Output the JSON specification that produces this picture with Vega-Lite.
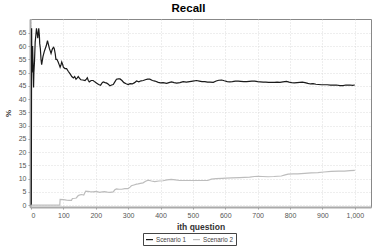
{
  "$schema": "https://vega.github.io/schema/vega-lite/v6.json",
  "autosize": {"type": "none"},
  "width": 341,
  "height": 188,
  "padding": {"left": 30, "top": 19, "right": 7, "bottom": 39},
  "background": "white",
  "title": {"text": "Recall", "font": "Liberation Sans", "fontSize": 11.5, "fontWeight": "bold", "color": "#000", "anchor": "middle", "dx": -12, "offset": 5},
  "config": {
    "view": {"stroke": "#888", "strokeWidth": 1},
    "axis": {"labelFont": "Liberation Sans", "labelFontSize": 7, "labelColor": "#555", "titleFont": "Liberation Sans", "titleColor": "#333", "gridColor": "#d4d4d4", "gridDash": [1, 2], "gridWidth": 0.8, "tickColor": "#999", "tickSize": 2, "domainColor": "#aaa", "domainWidth": 2}
  },
  "data": {"values": [
    {"q":1,"v":0,"s":"Scenario 1"},{"q":2,"v":66.7,"s":"Scenario 1"},{"q":3,"v":50,"s":"Scenario 1"},{"q":5,"v":60,"s":"Scenario 1"},{"q":7,"v":50,"s":"Scenario 1"},{"q":8,"v":44.4,"s":"Scenario 1"},{"q":9,"v":50,"s":"Scenario 1"},{"q":11,"v":54.5,"s":"Scenario 1"},{"q":13,"v":61.5,"s":"Scenario 1"},{"q":15,"v":64,"s":"Scenario 1"},{"q":17,"v":66.7,"s":"Scenario 1"},{"q":19,"v":65,"s":"Scenario 1"},{"q":21,"v":63,"s":"Scenario 1"},{"q":23,"v":65.2,"s":"Scenario 1"},{"q":24,"v":66.7,"s":"Scenario 1"},{"q":26,"v":64,"s":"Scenario 1"},{"q":27,"v":61,"s":"Scenario 1"},{"q":29,"v":59,"s":"Scenario 1"},{"q":31,"v":55,"s":"Scenario 1"},{"q":33,"v":53,"s":"Scenario 1"},{"q":35,"v":54.5,"s":"Scenario 1"},{"q":37,"v":56,"s":"Scenario 1"},{"q":41,"v":57.9,"s":"Scenario 1"},{"q":44,"v":59,"s":"Scenario 1"},{"q":47,"v":60,"s":"Scenario 1"},{"q":51,"v":62,"s":"Scenario 1"},{"q":54,"v":60.5,"s":"Scenario 1"},{"q":57,"v":59,"s":"Scenario 1"},{"q":60,"v":58,"s":"Scenario 1"},{"q":62,"v":57.2,"s":"Scenario 1"},{"q":65,"v":58.5,"s":"Scenario 1"},{"q":67,"v":59.1,"s":"Scenario 1"},{"q":70,"v":59.5,"s":"Scenario 1"},{"q":72,"v":59,"s":"Scenario 1"},{"q":75,"v":57,"s":"Scenario 1"},{"q":77,"v":55,"s":"Scenario 1"},{"q":80,"v":55,"s":"Scenario 1"},{"q":84,"v":54,"s":"Scenario 1"},{"q":87,"v":53,"s":"Scenario 1"},{"q":90,"v":52,"s":"Scenario 1"},{"q":93,"v":53,"s":"Scenario 1"},{"q":95,"v":54,"s":"Scenario 1"},{"q":98,"v":53,"s":"Scenario 1"},{"q":100,"v":52,"s":"Scenario 1"},{"q":105,"v":51.5,"s":"Scenario 1"},{"q":110,"v":51.5,"s":"Scenario 1"},{"q":115,"v":50.5,"s":"Scenario 1"},{"q":118,"v":50,"s":"Scenario 1"},{"q":122,"v":49.3,"s":"Scenario 1"},{"q":126,"v":48.5,"s":"Scenario 1"},{"q":131,"v":48,"s":"Scenario 1"},{"q":135,"v":48.5,"s":"Scenario 1"},{"q":139,"v":47.5,"s":"Scenario 1"},{"q":143,"v":48,"s":"Scenario 1"},{"q":146,"v":48.5,"s":"Scenario 1"},{"q":150,"v":47.8,"s":"Scenario 1"},{"q":154,"v":47.3,"s":"Scenario 1"},{"q":160,"v":47.2,"s":"Scenario 1"},{"q":167,"v":47,"s":"Scenario 1"},{"q":171,"v":47.5,"s":"Scenario 1"},{"q":174,"v":48,"s":"Scenario 1"},{"q":177,"v":47,"s":"Scenario 1"},{"q":180,"v":46.5,"s":"Scenario 1"},{"q":186,"v":47,"s":"Scenario 1"},{"q":192,"v":47,"s":"Scenario 1"},{"q":197,"v":46.5,"s":"Scenario 1"},{"q":203,"v":46,"s":"Scenario 1"},{"q":209,"v":45.5,"s":"Scenario 1"},{"q":215,"v":45.2,"s":"Scenario 1"},{"q":219,"v":46,"s":"Scenario 1"},{"q":223,"v":46.5,"s":"Scenario 1"},{"q":229,"v":46.2,"s":"Scenario 1"},{"q":234,"v":46,"s":"Scenario 1"},{"q":239,"v":45.6,"s":"Scenario 1"},{"q":244,"v":45,"s":"Scenario 1"},{"q":249,"v":45.3,"s":"Scenario 1"},{"q":254,"v":45.5,"s":"Scenario 1"},{"q":259,"v":46.5,"s":"Scenario 1"},{"q":264,"v":47.5,"s":"Scenario 1"},{"q":270,"v":47.6,"s":"Scenario 1"},{"q":275,"v":47.6,"s":"Scenario 1"},{"q":281,"v":47,"s":"Scenario 1"},{"q":287,"v":46.2,"s":"Scenario 1"},{"q":294,"v":45.8,"s":"Scenario 1"},{"q":300,"v":45.5,"s":"Scenario 1"},{"q":306,"v":45.8,"s":"Scenario 1"},{"q":313,"v":45.7,"s":"Scenario 1"},{"q":320,"v":46.2,"s":"Scenario 1"},{"q":326,"v":46.8,"s":"Scenario 1"},{"q":333,"v":46.5,"s":"Scenario 1"},{"q":340,"v":46.9,"s":"Scenario 1"},{"q":347,"v":47,"s":"Scenario 1"},{"q":353,"v":47.3,"s":"Scenario 1"},{"q":360,"v":47.5,"s":"Scenario 1"},{"q":367,"v":47.5,"s":"Scenario 1"},{"q":375,"v":47,"s":"Scenario 1"},{"q":383,"v":46.8,"s":"Scenario 1"},{"q":393,"v":46.3,"s":"Scenario 1"},{"q":400,"v":46.1,"s":"Scenario 1"},{"q":408,"v":46.2,"s":"Scenario 1"},{"q":419,"v":45.9,"s":"Scenario 1"},{"q":426,"v":46.2,"s":"Scenario 1"},{"q":434,"v":46.5,"s":"Scenario 1"},{"q":442,"v":46.2,"s":"Scenario 1"},{"q":450,"v":46,"s":"Scenario 1"},{"q":460,"v":46.2,"s":"Scenario 1"},{"q":470,"v":46.6,"s":"Scenario 1"},{"q":480,"v":46.4,"s":"Scenario 1"},{"q":490,"v":46.6,"s":"Scenario 1"},{"q":500,"v":46.8,"s":"Scenario 1"},{"q":511,"v":47,"s":"Scenario 1"},{"q":520,"v":46.8,"s":"Scenario 1"},{"q":528,"v":46.6,"s":"Scenario 1"},{"q":537,"v":46.6,"s":"Scenario 1"},{"q":545,"v":46.4,"s":"Scenario 1"},{"q":553,"v":46.4,"s":"Scenario 1"},{"q":563,"v":46.3,"s":"Scenario 1"},{"q":572,"v":46.8,"s":"Scenario 1"},{"q":580,"v":47.1,"s":"Scenario 1"},{"q":589,"v":47.2,"s":"Scenario 1"},{"q":597,"v":46.9,"s":"Scenario 1"},{"q":606,"v":46.6,"s":"Scenario 1"},{"q":614,"v":46.5,"s":"Scenario 1"},{"q":622,"v":46.6,"s":"Scenario 1"},{"q":631,"v":46.8,"s":"Scenario 1"},{"q":640,"v":46.8,"s":"Scenario 1"},{"q":648,"v":46.7,"s":"Scenario 1"},{"q":657,"v":46.6,"s":"Scenario 1"},{"q":666,"v":46.6,"s":"Scenario 1"},{"q":674,"v":46.7,"s":"Scenario 1"},{"q":682,"v":46.8,"s":"Scenario 1"},{"q":691,"v":46.8,"s":"Scenario 1"},{"q":700,"v":46.6,"s":"Scenario 1"},{"q":708,"v":46.5,"s":"Scenario 1"},{"q":717,"v":46.4,"s":"Scenario 1"},{"q":725,"v":46.4,"s":"Scenario 1"},{"q":734,"v":46.3,"s":"Scenario 1"},{"q":743,"v":46.3,"s":"Scenario 1"},{"q":752,"v":46.3,"s":"Scenario 1"},{"q":760,"v":46.4,"s":"Scenario 1"},{"q":769,"v":46.3,"s":"Scenario 1"},{"q":778,"v":46.5,"s":"Scenario 1"},{"q":789,"v":46.7,"s":"Scenario 1"},{"q":797,"v":46.4,"s":"Scenario 1"},{"q":805,"v":46.2,"s":"Scenario 1"},{"q":813,"v":46.1,"s":"Scenario 1"},{"q":822,"v":46.2,"s":"Scenario 1"},{"q":830,"v":46.3,"s":"Scenario 1"},{"q":838,"v":46.4,"s":"Scenario 1"},{"q":846,"v":46.2,"s":"Scenario 1"},{"q":855,"v":45.9,"s":"Scenario 1"},{"q":863,"v":45.7,"s":"Scenario 1"},{"q":871,"v":45.8,"s":"Scenario 1"},{"q":880,"v":45.6,"s":"Scenario 1"},{"q":888,"v":45.5,"s":"Scenario 1"},{"q":897,"v":45.4,"s":"Scenario 1"},{"q":905,"v":45.4,"s":"Scenario 1"},{"q":915,"v":45.4,"s":"Scenario 1"},{"q":925,"v":45.3,"s":"Scenario 1"},{"q":933,"v":45.3,"s":"Scenario 1"},{"q":943,"v":45.3,"s":"Scenario 1"},{"q":954,"v":45.1,"s":"Scenario 1"},{"q":964,"v":45.1,"s":"Scenario 1"},{"q":972,"v":45.3,"s":"Scenario 1"},{"q":980,"v":45.3,"s":"Scenario 1"},{"q":985,"v":45.3,"s":"Scenario 1"},{"q":993,"v":45.2,"s":"Scenario 1"},{"q":1000,"v":45.3,"s":"Scenario 1"},
    {"q":1,"v":0,"s":"Scenario 2"},{"q":89,"v":0,"s":"Scenario 2"},{"q":90,"v":2.2,"s":"Scenario 2"},{"q":100,"v":2.1,"s":"Scenario 2"},{"q":110,"v":1.9,"s":"Scenario 2"},{"q":118,"v":1.8,"s":"Scenario 2"},{"q":125,"v":1.8,"s":"Scenario 2"},{"q":128,"v":2.5,"s":"Scenario 2"},{"q":135,"v":2.6,"s":"Scenario 2"},{"q":140,"v":2.7,"s":"Scenario 2"},{"q":146,"v":3.6,"s":"Scenario 2"},{"q":152,"v":3.9,"s":"Scenario 2"},{"q":156,"v":4,"s":"Scenario 2"},{"q":163,"v":3.8,"s":"Scenario 2"},{"q":169,"v":5.3,"s":"Scenario 2"},{"q":175,"v":5.2,"s":"Scenario 2"},{"q":182,"v":5.1,"s":"Scenario 2"},{"q":192,"v":5,"s":"Scenario 2"},{"q":202,"v":5.2,"s":"Scenario 2"},{"q":212,"v":4.8,"s":"Scenario 2"},{"q":220,"v":5,"s":"Scenario 2"},{"q":227,"v":5.1,"s":"Scenario 2"},{"q":236,"v":4.9,"s":"Scenario 2"},{"q":244,"v":4.8,"s":"Scenario 2"},{"q":249,"v":4.9,"s":"Scenario 2"},{"q":254,"v":5,"s":"Scenario 2"},{"q":259,"v":5.8,"s":"Scenario 2"},{"q":264,"v":6.1,"s":"Scenario 2"},{"q":272,"v":6,"s":"Scenario 2"},{"q":280,"v":6,"s":"Scenario 2"},{"q":290,"v":6.2,"s":"Scenario 2"},{"q":300,"v":6.2,"s":"Scenario 2"},{"q":306,"v":6.8,"s":"Scenario 2"},{"q":310,"v":7.3,"s":"Scenario 2"},{"q":318,"v":7.6,"s":"Scenario 2"},{"q":326,"v":7.9,"s":"Scenario 2"},{"q":331,"v":8,"s":"Scenario 2"},{"q":338,"v":8.2,"s":"Scenario 2"},{"q":346,"v":8.4,"s":"Scenario 2"},{"q":354,"v":9,"s":"Scenario 2"},{"q":362,"v":9.4,"s":"Scenario 2"},{"q":372,"v":9.1,"s":"Scenario 2"},{"q":382,"v":8.9,"s":"Scenario 2"},{"q":395,"v":9.1,"s":"Scenario 2"},{"q":408,"v":9.2,"s":"Scenario 2"},{"q":420,"v":9.5,"s":"Scenario 2"},{"q":433,"v":9.7,"s":"Scenario 2"},{"q":446,"v":9.5,"s":"Scenario 2"},{"q":459,"v":9.3,"s":"Scenario 2"},{"q":480,"v":9.3,"s":"Scenario 2"},{"q":500,"v":9.3,"s":"Scenario 2"},{"q":520,"v":9.3,"s":"Scenario 2"},{"q":546,"v":9.3,"s":"Scenario 2"},{"q":557,"v":9.8,"s":"Scenario 2"},{"q":572,"v":10,"s":"Scenario 2"},{"q":590,"v":10.1,"s":"Scenario 2"},{"q":603,"v":10.2,"s":"Scenario 2"},{"q":620,"v":10.3,"s":"Scenario 2"},{"q":644,"v":10.4,"s":"Scenario 2"},{"q":660,"v":10.5,"s":"Scenario 2"},{"q":675,"v":10.6,"s":"Scenario 2"},{"q":690,"v":10.8,"s":"Scenario 2"},{"q":701,"v":10.9,"s":"Scenario 2"},{"q":715,"v":10.8,"s":"Scenario 2"},{"q":732,"v":10.7,"s":"Scenario 2"},{"q":750,"v":10.8,"s":"Scenario 2"},{"q":773,"v":11,"s":"Scenario 2"},{"q":785,"v":11.4,"s":"Scenario 2"},{"q":794,"v":11.7,"s":"Scenario 2"},{"q":810,"v":11.8,"s":"Scenario 2"},{"q":824,"v":11.8,"s":"Scenario 2"},{"q":845,"v":12,"s":"Scenario 2"},{"q":865,"v":12.2,"s":"Scenario 2"},{"q":886,"v":12.3,"s":"Scenario 2"},{"q":905,"v":12.5,"s":"Scenario 2"},{"q":927,"v":12.7,"s":"Scenario 2"},{"q":950,"v":12.8,"s":"Scenario 2"},{"q":968,"v":12.8,"s":"Scenario 2"},{"q":985,"v":13,"s":"Scenario 2"},{"q":1000,"v":13.1,"s":"Scenario 2"}
  ]},
  "mark": {"type": "line", "strokeWidth": 1.2, "clip": true},
  "encoding": {
    "x": {"field": "q", "type": "quantitative", "scale": {"domain": [-3, 1050], "nice": false, "zero": false},
      "axis": {"values": [0,100,200,300,400,500,600,700,800,900,1000], "format": ",d", "title": "ith question", "titleFontSize": 8.5, "titleFontWeight": "bold", "titlePadding": 4, "titleDx": -6, "labelPadding": 2}},
    "y": {"field": "v", "type": "quantitative", "scale": {"domain": [-0.7, 70.2], "nice": false, "zero": false},
      "axis": {"values": [0,5,10,15,20,25,30,35,40,45,50,55,60,65], "title": "%", "titleFontSize": 8, "titleFontWeight": "bold", "titlePadding": 6, "labelPadding": 2}},
    "color": {"field": "s", "type": "nominal", "scale": {"domain": ["Scenario 1", "Scenario 2"], "range": ["#1a1a1a", "#bdbdbd"]},
      "legend": {"title": null, "orient": "none", "legendX": 113, "legendY": 214, "direction": "horizontal", "symbolType": "stroke", "symbolSize": 49, "symbolStrokeWidth": 1.2, "labelFont": "Liberation Sans", "labelFontSize": 6.3, "labelColor": "#444", "strokeColor": "#444", "padding": 2, "columnPadding": 3, "labelOffset": 2}}
  }
}
